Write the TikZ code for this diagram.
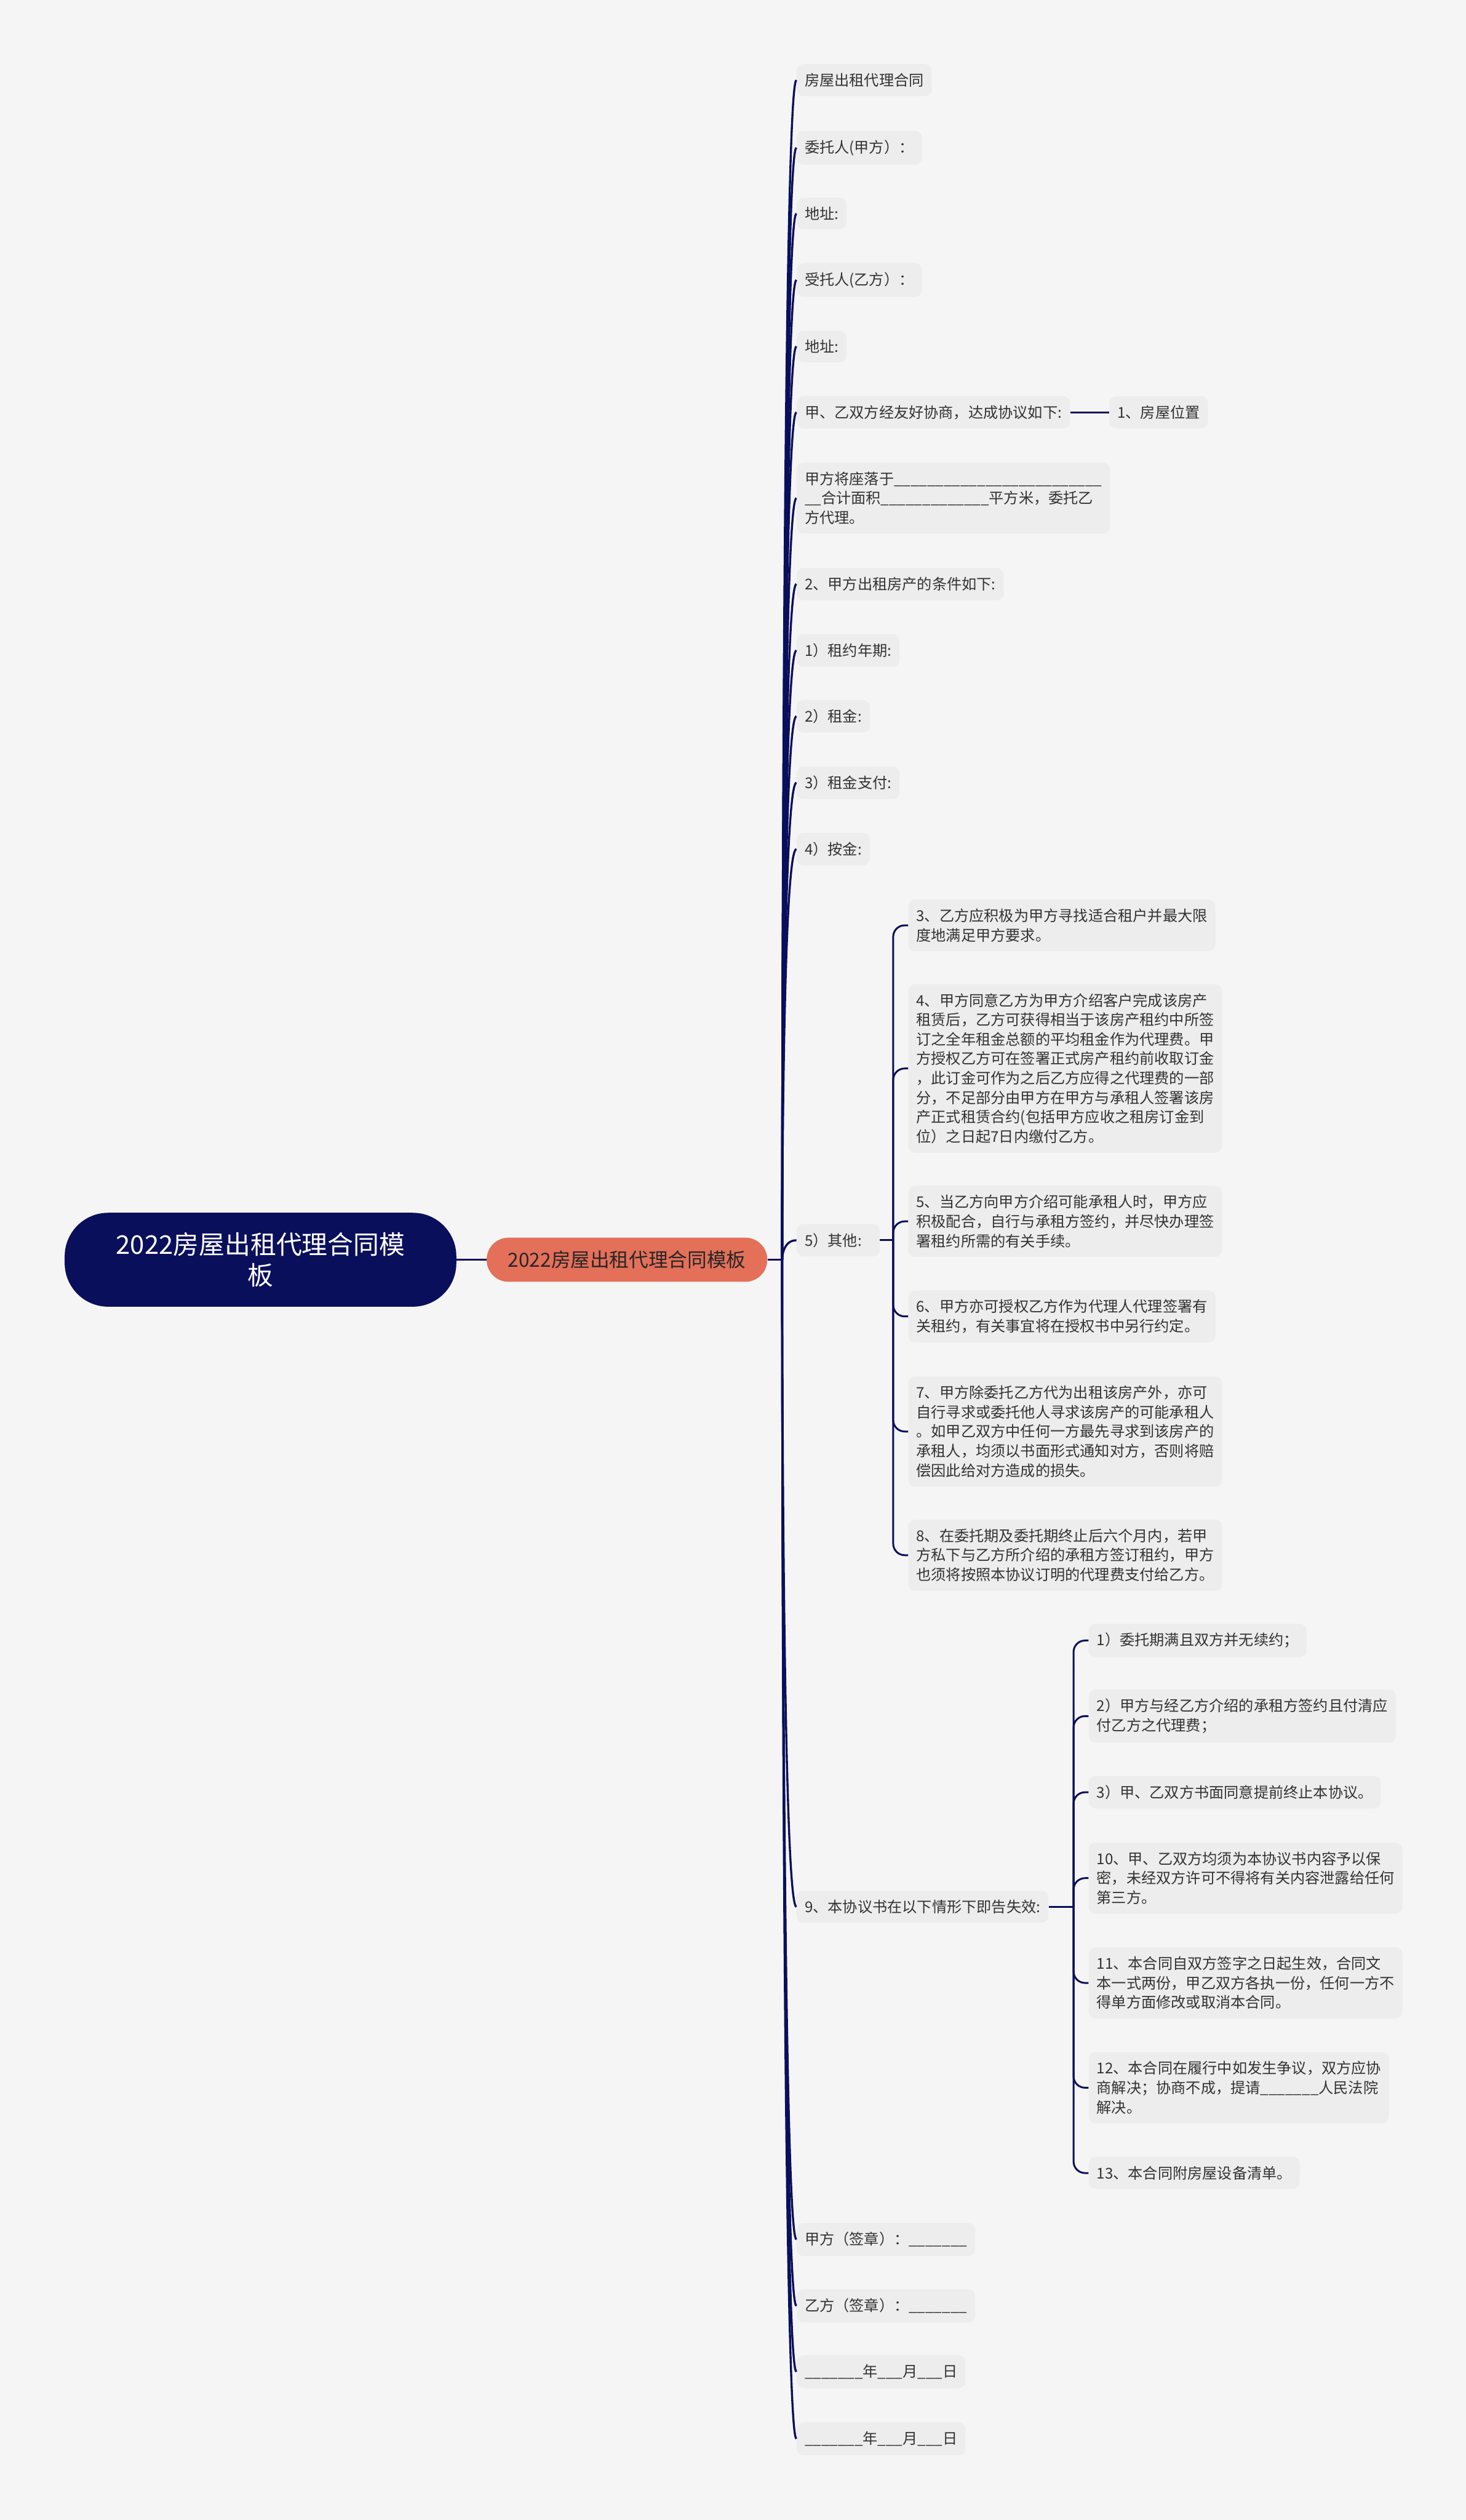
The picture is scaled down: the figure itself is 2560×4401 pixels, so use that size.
\documentclass[tikz,border=0pt]{standalone}
\usepackage{fontspec}
\setmainfont{Noto Sans CJK SC}
\definecolor{navy}{HTML}{0A0F5C}
\definecolor{salmon}{HTML}{E4705A}
\definecolor{paper}{HTML}{F5F5F5}
\definecolor{leaf}{HTML}{EDEDED}
\definecolor{ink}{HTML}{333333}

\begin{document}
\begin{tikzpicture}[x=0.5pt, y=-0.5pt,
    rootnode/.style={fill=navy, text=white, rounded corners=38pt, minimum width=342pt,
      minimum height=82pt, align=center, font=\fontsize{22.5}{27}\selectfont},
    topicnode/.style={fill=salmon, text=black!85, rounded corners=19pt, minimum width=245pt,
      minimum height=38.5pt, font=\fontsize{17}{20}\selectfont},
    leafnode/.style={fill=leaf, text=ink, rounded corners=6pt, anchor=west, align=left,
      inner xsep=7pt, inner ysep=8pt, font=\fontsize{13}{17}\selectfont},
    mainlink/.style={draw=navy, line width=1.8pt},
    sublink/.style={draw=navy, line width=1.6pt, rounded corners=10pt}
  ]

  \fill[paper] (0,0) rectangle (2560,4401);
  \useasboundingbox (0,0) rectangle (2560,4401);

  % centre
  \node[rootnode] (root) at (455,2200) {2022房屋出租代理合同模\\板};
  \node[topicnode] (topic) at (1095,2200) {2022房屋出租代理合同模板};
  \coordinate (hub) at (1366,2200);

  % first level
  \node[leafnode] (c1) at (1391,140) {房屋出租代理合同};
  \node[leafnode] (c2) at (1391,258) {委托人(甲方）：};
  \node[leafnode] (c3) at (1391,373) {地址:};
  \node[leafnode] (c4) at (1391,489) {受托人(乙方）：};
  \node[leafnode] (c5) at (1391,605) {地址:};
  \node[leafnode] (c6) at (1391,720) {甲、乙双方经友好协商，达成协议如下:};
  \node[leafnode] (c7) at (1391,870) {甲方将座落于\_\_\_\_\_\_\_\_\_\_\_\_\_\_\_\_\_\_\_\_\_\_\_\_\_\\
    \_\_合计面积\_\_\_\_\_\_\_\_\_\_\_\_\_平方米，委托乙\\方代理。};
  \node[leafnode] (c8) at (1391,1020) {2、甲方出租房产的条件如下:};
  \node[leafnode] (c9) at (1391,1136) {1）租约年期:};
  \node[leafnode] (c10) at (1391,1251) {2）租金:};
  \node[leafnode] (c11) at (1391,1367) {3）租金支付:};
  \node[leafnode] (c12) at (1391,1483) {4）按金:};
  \node[leafnode, text width=58.5pt] (c13) at (1391,2166) {5）其他:};
  \node[leafnode] (c14) at (1391,3330) {9、本协议书在以下情形下即告失效:};
  \node[leafnode] (c15) at (1391,3911) {甲方（签章）：\_\_\_\_\_\_\_};
  \node[leafnode] (c16) at (1391,4027) {乙方（签章）：\_\_\_\_\_\_\_};
  \node[leafnode] (c17) at (1391,4142) {\_\_\_\_\_\_\_年\_\_\_月\_\_\_日};
  \node[leafnode] (c18) at (1391,4259) {\_\_\_\_\_\_\_年\_\_\_月\_\_\_日};

  \node[leafnode] (d1) at (1937,720) {1、房屋位置};

  % under 5
  \coordinate (k5) at (1560,2166);
  \node[leafnode] (e3) at (1586,1616) {3、乙方应积极为甲方寻找适合租户并最大限\\度地满足甲方要求。};
  \node[leafnode] (e4) at (1586,1866) {4、甲方同意乙方为甲方介绍客户完成该房产\\
    租赁后，乙方可获得相当于该房产租约中所签\\订之全年租金总额的平均租金作为代理费。甲\\
    方授权乙方可在签署正式房产租约前收取订金\\，此订金可作为之后乙方应得之代理费的一部\\
    分，不足部分由甲方在甲方与承租人签署该房\\产正式租赁合约(包括甲方应收之租房订金到\\
    位）之日起7日内缴付乙方。};
  \node[leafnode] (e5) at (1586,2133) {5、当乙方向甲方介绍可能承租人时，甲方应\\积极配合，自行与承租方签约，并尽快办理签\\
    署租约所需的有关手续。};
  \node[leafnode] (e6) at (1586,2299) {6、甲方亦可授权乙方作为代理人代理签署有\\关租约，有关事宜将在授权书中另行约定。};
  \node[leafnode] (e7) at (1586,2500) {7、甲方除委托乙方代为出租该房产外，亦可\\自行寻求或委托他人寻求该房产的可能承租人\\
    。如甲乙双方中任何一方最先寻求到该房产的\\承租人，均须以书面形式通知对方，否则将赔\\
    偿因此给对方造成的损失。};
  \node[leafnode] (e8) at (1586,2716) {8、在委托期及委托期终止后六个月内，若甲\\方私下与乙方所介绍的承租方签订租约，甲方\\
    也须将按照本协议订明的代理费支付给乙方。};

  % under 9
  \coordinate (k9) at (1875,3330);
  \node[leafnode] (f1) at (1901,2865) {1）委托期满且双方并无续约；};
  \node[leafnode] (f2) at (1901,2997) {2）甲方与经乙方介绍的承租方签约且付清应\\付乙方之代理费；};
  \node[leafnode] (f3) at (1901,3130) {3）甲、乙双方书面同意提前终止本协议。};
  \node[leafnode] (f10) at (1901,3280) {10、甲、乙双方均须为本协议书内容予以保\\密，未经双方许可不得将有关内容泄露给任何\\第三方。};
  \node[leafnode] (f11) at (1901,3463) {11、本合同自双方签字之日起生效，合同文\\本一式两份，甲乙双方各执一份，任何一方不\\
    得单方面修改或取消本合同。};
  \node[leafnode] (f12) at (1901,3646) {12、本合同在履行中如发生争议，双方应协\\商解决；协商不成，提请\_\_\_\_\_\_\_人民法院\\解决。};
  \node[leafnode] (f13) at (1901,3795) {13、本合同附房屋设备清单。};

  % links
  \draw[mainlink, line width=1.4pt] (root) -- (topic);
  \draw[mainlink] (topic) -- (hub);
  \draw[mainlink] (hub) .. controls (hub) and (hub |- c1.west) .. (c1.west);
  \draw[mainlink] (hub) .. controls (hub) and (hub |- c2.west) .. (c2.west);
  \draw[mainlink] (hub) .. controls (hub) and (hub |- c3.west) .. (c3.west);
  \draw[mainlink] (hub) .. controls (hub) and (hub |- c4.west) .. (c4.west);
  \draw[mainlink] (hub) .. controls (hub) and (hub |- c5.west) .. (c5.west);
  \draw[mainlink] (hub) .. controls (hub) and (hub |- c6.west) .. (c6.west);
  \draw[mainlink] (hub) .. controls (hub) and (hub |- c7.west) .. (c7.west);
  \draw[mainlink] (hub) .. controls (hub) and (hub |- c8.west) .. (c8.west);
  \draw[mainlink] (hub) .. controls (hub) and (hub |- c9.west) .. (c9.west);
  \draw[mainlink] (hub) .. controls (hub) and (hub |- c10.west) .. (c10.west);
  \draw[mainlink] (hub) .. controls (hub) and (hub |- c11.west) .. (c11.west);
  \draw[mainlink] (hub) .. controls (hub) and (hub |- c12.west) .. (c12.west);
  \draw[mainlink] (hub) .. controls (hub) and (hub |- c13.west) .. (c13.west);
  \draw[mainlink] (hub) .. controls (hub) and (hub |- c14.west) .. (c14.west);
  \draw[mainlink] (hub) .. controls (hub) and (hub |- c15.west) .. (c15.west);
  \draw[mainlink] (hub) .. controls (hub) and (hub |- c16.west) .. (c16.west);
  \draw[mainlink] (hub) .. controls (hub) and (hub |- c17.west) .. (c17.west);
  \draw[mainlink] (hub) .. controls (hub) and (hub |- c18.west) .. (c18.west);

  \draw[sublink] (c6) -- (d1);

  \draw[sublink] (c13.east) -- (k5);
  \draw[sublink] (k5) |- (e3.west);
  \draw[sublink] (k5) |- (e4.west);
  \draw[sublink] (k5) |- (e5.west);
  \draw[sublink] (k5) |- (e6.west);
  \draw[sublink] (k5) |- (e7.west);
  \draw[sublink] (k5) |- (e8.west);

  \draw[sublink] (c14.east) -- (k9);
  \draw[sublink] (k9) |- (f1.west);
  \draw[sublink] (k9) |- (f2.west);
  \draw[sublink] (k9) |- (f3.west);
  \draw[sublink] (k9) |- (f10.west);
  \draw[sublink] (k9) |- (f11.west);
  \draw[sublink] (k9) |- (f12.west);
  \draw[sublink] (k9) |- (f13.west);

\end{tikzpicture}
\end{document}
